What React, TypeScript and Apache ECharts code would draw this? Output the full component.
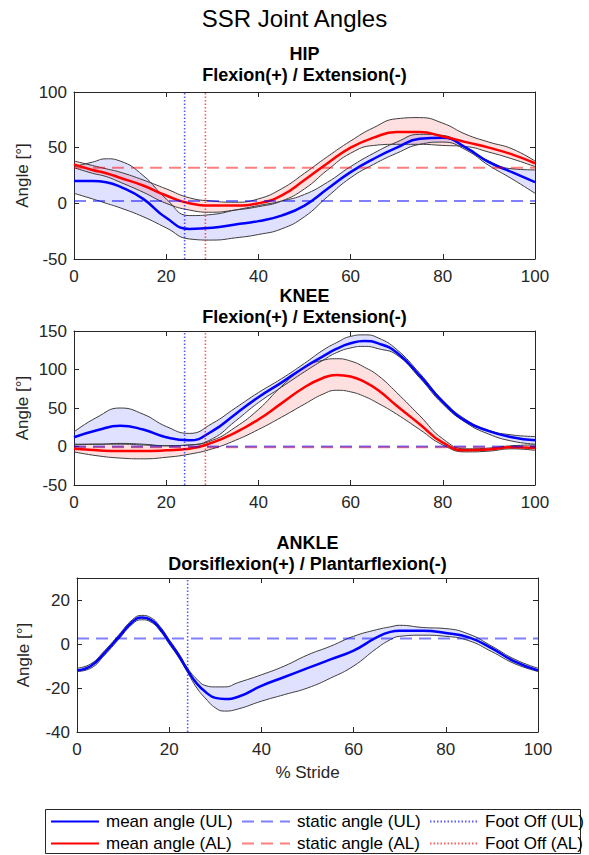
import React, { useEffect, useRef } from 'react';
import * as echarts from 'echarts';

// ---------- DATA ----------
const xDomain = [0, 100];

const hipX = [0, 4, 7, 10, 15, 20, 25, 30, 35, 40, 45, 50, 55, 60, 65, 70, 75, 80, 85, 90, 95, 100];
const hipMeanUL = [20, 20, 19, 15, 4, -13, -23, -22, -19, -16, -11, -2, 13, 28, 40, 50, 58, 59, 50, 37, 28, 19];
const hipUpperUL = [33, 37, 40, 38, 25, 4, -11, -10, -6, -2, 2, 8, 19, 33, 45, 55, 62, 61, 50, 38, 31, 30];
const hipLowerUL = [9, 4, 0, -4, -12, -22, -32, -33, -31, -28, -23, -12, 6, 23, 35, 45, 53, 55, 48, 34, 22, 9];
const hipMeanAL = [35, 30, 27, 23, 16, 7, 0, -2, -2, 0, 7, 21, 36, 50, 59, 64, 64, 60, 55, 50, 44, 36];
const hipUpperAL = [38, 34, 31, 28, 21, 13, 5, 2, 1, 4, 13, 27, 42, 56, 68, 76, 77, 72, 62, 55, 49, 38];
const hipLowerAL = [32, 27, 24, 19, 10, 0, -6, -8, -6, -3, 2, 13, 30, 45, 52, 53, 53, 52, 51, 46, 40, 33];
const hipStatic = [2, 32]; // UL, AL
const hipRange = [-50, 100, 50];

const kneeX = [0, 5, 10, 15, 20, 25, 30, 35, 40, 45, 50, 54, 57, 60, 63, 66, 70, 75, 80, 85, 90, 95, 100];
const kneeMeanUL = [12, 21, 27, 22, 12, 8, 20, 42, 64, 83, 103, 117, 127, 134, 137, 134, 122, 92, 58, 33, 20, 12, 8];
const kneeUpperUL = [19, 38, 50, 42, 26, 17, 30, 50, 70, 88, 108, 125, 135, 143, 145, 141, 126, 95, 60, 35, 21, 15, 13];
const kneeLowerUL = [3, 3, 4, 3, 1, 2, 10, 33, 57, 77, 97, 112, 122, 128, 130, 127, 119, 89, 55, 31, 16, 7, 3];
const kneeMeanAL = [-3, -5, -6, -6, -5, -3, 5, 18, 35, 56, 77, 89, 93, 91, 84, 73, 53, 29, 5, -5, -4, -1, -2];
const kneeUpperAL = [2, 3, 3, 2, 1, 2, 8, 25, 48, 78, 103, 112, 114, 111, 103, 92, 70, 40, 10, -3, -2, 1, 2];
const kneeLowerAL = [-7, -12, -15, -16, -14, -10, -3, 8, 22, 38, 55, 68, 73, 71, 65, 56, 42, 22, 2, -7, -6, -3, -5];
const kneeStatic = [0, -1];
const kneeRange = [-50, 150, 50];

const ankleX = [0, 3, 6, 9, 12, 14, 16, 18, 20, 22, 24, 26, 28, 30, 32, 35, 40, 45, 50, 55, 60, 65, 68, 70, 75, 80, 85, 90, 95, 100];
const ankleMeanUL = [-12, -10, -4, 3, 10, 12, 11, 7, 1, -5, -12, -18, -22, -24.5, -25, -24, -19, -15, -11, -7, -3, 3, 5.5, 6, 6, 5, 3, -2, -8, -12];
const ankleUpperUL = [-11, -9, -3, 4, 11, 13, 12, 8, 2, -4, -11, -16, -19, -19.5, -19.5, -17.5, -14, -10, -5, -1, 3.5, 6.5, 7.8, 8.5, 7.5, 7, 4.5, -1, -7, -11];
const ankleLowerUL = [-12.5, -11, -5, 2, 9, 11, 10, 6, 0, -6, -13, -20, -25, -29, -30.5, -29.5, -26, -23, -20, -15.5, -10, -2, 2, 3.5, 4, 3.5, 1.5, -3.5, -9, -12.5];
const ankleStatic = [2.5];
const ankleRange = [-40, 30, 20];

const footOff = [24, 28.5]; // UL, AL

const NAMES = {
  meanUL: 'mean angle (UL)', meanAL: 'mean angle (AL)',
  staticUL: 'static angle (UL)', staticAL: 'static angle (AL)',
  footUL: 'Foot Off (UL)', footAL: 'Foot Off (AL)',
};

// ---------- STYLE / LAYOUT ----------
const FONT = 'Liberation Sans, Arial, Helvetica, sans-serif';
const AX = '#262626';
const EDGE = '#3c3c3c';
const grids = [
  { left: 74, top: 92, width: 461, height: 167 },
  { left: 74, top: 331, width: 461, height: 154 },
  { left: 77, top: 578, width: 461, height: 154 },
];

function smoothSegs(p: number[][], smooth = 0.5) {
  const segs: number[][][] = [];
  const n = p.length;
  let cp0x = p[0][0], cp0y = p[0][1];
  for (let k = 1; k < n; k++) {
    const px = p[k - 1][0], py = p[k - 1][1];
    const x = p[k][0], y = p[k][1];
    let ncx = x, ncy = y, ccx = x, ccy = y;
    if (k < n - 1) {
      const nx = p[k + 1][0], ny = p[k + 1][1];
      let vx = nx - px, vy = ny - py;
      const l0 = Math.hypot(x - px, y - py), l1 = Math.hypot(nx - x, ny - y);
      const r = l1 / (l0 + l1);
      ncx = x - vx * smooth * (1 - r); ncy = y - vy * smooth * (1 - r);
      ccx = x + vx * smooth * r; ccy = y + vy * smooth * r;
      ccx = Math.min(ccx, Math.max(nx, x)); ccy = Math.min(ccy, Math.max(ny, y));
      ccx = Math.max(ccx, Math.min(nx, x)); ccy = Math.max(ccy, Math.min(ny, y));
      vx = ccx - x; vy = ccy - y;
      ncx = x - vx * l0 / l1; ncy = y - vy * l0 / l1;
      ncx = Math.min(ncx, Math.max(px, x)); ncy = Math.min(ncy, Math.max(py, y));
      ncx = Math.max(ncx, Math.min(px, x)); ncy = Math.max(ncy, Math.min(py, y));
      vx = x - ncx; vy = y - ncy;
      ccx = x + vx * l1 / l0; ccy = y + vy * l1 / l0;
    }
    segs.push([[px, py], [cp0x, cp0y], [ncx, ncy], [x, y]]);
    cp0x = ccx; cp0y = ccy;
  }
  return segs;
}

function bandSeries(gi: number, xs: number[], lo: number[], hi: number[], fill: string) {
  return {
    type: 'custom',
    name: '_band' + gi + fill,
    xAxisIndex: gi * 2,
    yAxisIndex: gi * 2,
    silent: true,
    data: xs.map((x, i) => [x, lo[i], hi[i]]),
    encode: { x: 0, y: [1, 2] },
    renderItem: (params: any, api: any) => {
      if (params.dataIndex !== 0) return null;
      const up = xs.map((x, i) => api.coord([x, hi[i]]));
      const lw = xs.map((x, i) => api.coord([x, lo[i]]));
      const su = smoothSegs(up), sl = smoothSegs(lw);
      let d = `M${up[0][0]},${up[0][1]}`;
      su.forEach((s) => { d += `C${s[1][0]},${s[1][1]} ${s[2][0]},${s[2][1]} ${s[3][0]},${s[3][1]}`; });
      const last = lw[lw.length - 1];
      d += `L${last[0]},${last[1]}`;
      for (let i = sl.length - 1; i >= 0; i--) {
        const s = sl[i];
        d += `C${s[2][0]},${s[2][1]} ${s[1][0]},${s[1][1]} ${s[0][0]},${s[0][1]}`;
      }
      d += 'Z';
      return { type: 'path', shape: { pathData: d }, style: { fill, stroke: 'none' } };
    },
  };
}

function lineSeries(name: string, gi: number, xs: number[], ys: number[], color: string, width: number, type: any, smooth: boolean) {
  return {
    type: 'line',
    name,
    xAxisIndex: gi * 2,
    yAxisIndex: gi * 2,
    data: xs.map((x, i) => [x, ys[i]]),
    smooth: smooth ? 0.5 : false,
    symbol: 'none',
    showSymbol: false,
    silent: true,
    lineStyle: { color, width, type },
    itemStyle: { color },
    emphasis: { disabled: true },
  };
}

const BLUE = '#0000ff', RED = '#ff0000';
const BFILL = 'rgba(0,0,255,0.12)', RFILL = 'rgba(255,0,0,0.12)';
const BSTAT = 'rgba(0,0,255,0.5)', RSTAT = 'rgba(255,0,0,0.5)';
const BFOOT = 'rgba(0,0,255,0.65)', RFOOT = 'rgba(255,0,0,0.65)';
const DASH = [12, 7];
const DOT = [1.5, 2];

function buildSeries() {
  const s: any[] = [];
  const joints = [
    { x: hipX, mU: hipMeanUL, uU: hipUpperUL, lU: hipLowerUL, mA: hipMeanAL, uA: hipUpperAL, lA: hipLowerAL, st: hipStatic, r: hipRange },
    { x: kneeX, mU: kneeMeanUL, uU: kneeUpperUL, lU: kneeLowerUL, mA: kneeMeanAL, uA: kneeUpperAL, lA: kneeLowerAL, st: kneeStatic, r: kneeRange },
    { x: ankleX, mU: ankleMeanUL, uU: ankleUpperUL, lU: ankleLowerUL, mA: null, uA: null, lA: null, st: ankleStatic, r: ankleRange },
  ];
  joints.forEach((j, gi) => {
    s.push(bandSeries(gi, j.x, j.lU, j.uU, BFILL));
    if (j.mA) s.push(bandSeries(gi, j.x, j.lA!, j.uA!, RFILL));
    s.push(lineSeries('_e', gi, j.x, j.uU, EDGE, 1, 'solid', true));
    s.push(lineSeries('_e', gi, j.x, j.lU, EDGE, 1, 'solid', true));
    if (j.mA) {
      s.push(lineSeries('_e', gi, j.x, j.uA!, EDGE, 1, 'solid', true));
      s.push(lineSeries('_e', gi, j.x, j.lA!, EDGE, 1, 'solid', true));
    }
    s.push(lineSeries(NAMES.meanUL, gi, j.x, j.mU, BLUE, 2.5, 'solid', true));
    if (j.mA) s.push(lineSeries(NAMES.meanAL, gi, j.x, j.mA, RED, 2.5, 'solid', true));
    if (j.st.length > 1) s.push(lineSeries(NAMES.staticAL, gi, xDomain, [j.st[1], j.st[1]], RSTAT, 2, DASH, false));
    s.push(lineSeries(NAMES.staticUL, gi, xDomain, [j.st[0], j.st[0]], BSTAT, 2, DASH, false));
    s.push(lineSeries(NAMES.footUL, gi, [footOff[0], footOff[0]], [j.r[0], j.r[1]], BFOOT, 1.6, DOT, false));
    if (j.mA) s.push(lineSeries(NAMES.footAL, gi, [footOff[1], footOff[1]], [j.r[0], j.r[1]], RFOOT, 1.6, DOT, false));
  });
  return s;
}

function buildAxes() {
  const ranges = [hipRange, kneeRange, ankleRange];
  const xAxis: any[] = [];
  const yAxis: any[] = [];
  ranges.forEach((r, gi) => {
    const common = {
      gridIndex: gi,
      axisLine: { show: true, onZero: false, lineStyle: { color: AX, width: 1 } },
      axisTick: { show: true, inside: true, length: 5, lineStyle: { color: AX } },
      splitLine: { show: false },
    };
    xAxis.push({
      ...common, type: 'value', position: 'bottom', min: xDomain[0], max: xDomain[1], interval: 20,
      axisLabel: { show: true, color: AX, fontSize: 17, fontFamily: FONT, margin: 9 },
      name: gi === 2 ? '% Stride' : '', nameLocation: 'middle', nameGap: 32,
      nameTextStyle: { color: AX, fontSize: 17, fontFamily: FONT },
    });
    xAxis.push({
      ...common, type: 'value', position: 'top', min: xDomain[0], max: xDomain[1], interval: 20,
      axisLabel: { show: false },
    });
    yAxis.push({
      ...common, type: 'value', position: 'left', min: r[0], max: r[1], interval: r[2],
      axisLabel: { show: true, color: AX, fontSize: 17, fontFamily: FONT, margin: 7, showMaxLabel: gi !== 2 },
      name: 'Angle [°]', nameLocation: 'middle', nameGap: gi === 2 ? 45 : 43,
      nameMoveOverlap: false,
      nameTextStyle: { color: AX, fontSize: 17, fontFamily: FONT },
    });
    yAxis.push({
      ...common, type: 'value', position: 'right', min: r[0], max: r[1], interval: r[2],
      axisLabel: { show: false },
    });
  });
  return { xAxis, yAxis };
}

function titleText(text: string, x: number, y: number, size: number, bold: boolean) {
  return {
    type: 'text', x, y, silent: true,
    style: { text, fontSize: size, fontWeight: bold ? 'bold' : 'normal', fontFamily: FONT, fill: '#000', align: 'center', verticalAlign: 'middle' },
  };
}

function legendCol(left: number, data: string[]) {
  return {
    type: 'plain',
    orient: 'vertical', left, top: 813, height: 60, width: 160,
    itemWidth: 48, itemHeight: 14, itemGap: 5,
    data, selectedMode: false,
    itemStyle: { opacity: 0 },
    textStyle: { fontSize: 17, color: '#000', fontFamily: FONT, padding: [0, 0, 0, 2] },
    padding: 0,
  };
}

export default function App() {
  const ref = useRef<HTMLDivElement>(null);
  useEffect(() => {
    const chart = echarts.init(ref.current!, null, { renderer: 'svg' });
    const { xAxis, yAxis } = buildAxes();
    const cx = (g: any) => g.left + g.width / 2;
    chart.setOption({
      animation: false,
      backgroundColor: '#fff',
      grid: grids.map((g) => ({ ...g, containLabel: false, outerBoundsMode: 'none' })),
      xAxis,
      yAxis,
      legend: [
        legendCol(50, [NAMES.meanUL, NAMES.meanAL]),
        legendCol(241, [NAMES.staticUL, NAMES.staticAL]),
        legendCol(429, [NAMES.footUL, NAMES.footAL]),
      ],
      graphic: [
        { type: 'rect', shape: { x: 45.5, y: 809.5, width: 535, height: 44 }, style: { fill: '#fff', stroke: AX, lineWidth: 1 }, silent: true, z: -10 },
        titleText('SSR Joint Angles', 294.5, 18, 24, false),
        titleText('HIP', cx(grids[0]), grids[0].top - 38, 18, true),
        titleText('Flexion(+) / Extension(-)', cx(grids[0]), grids[0].top - 17, 18, true),
        titleText('KNEE', cx(grids[1]), grids[1].top - 35, 18, true),
        titleText('Flexion(+) / Extension(-)', cx(grids[1]), grids[1].top - 14, 18, true),
        titleText('ANKLE', cx(grids[2]), grids[2].top - 35, 18, true),
        titleText('Dorsiflexion(+) / Plantarflexion(-)', cx(grids[2]), grids[2].top - 14, 18, true),
      ],
      series: buildSeries(),
    });
    return () => chart.dispose();
  }, []);
  return <div ref={ref} style={{ position: 'absolute', left: 0, top: 0, width: 589, height: 855 }} />;
}
